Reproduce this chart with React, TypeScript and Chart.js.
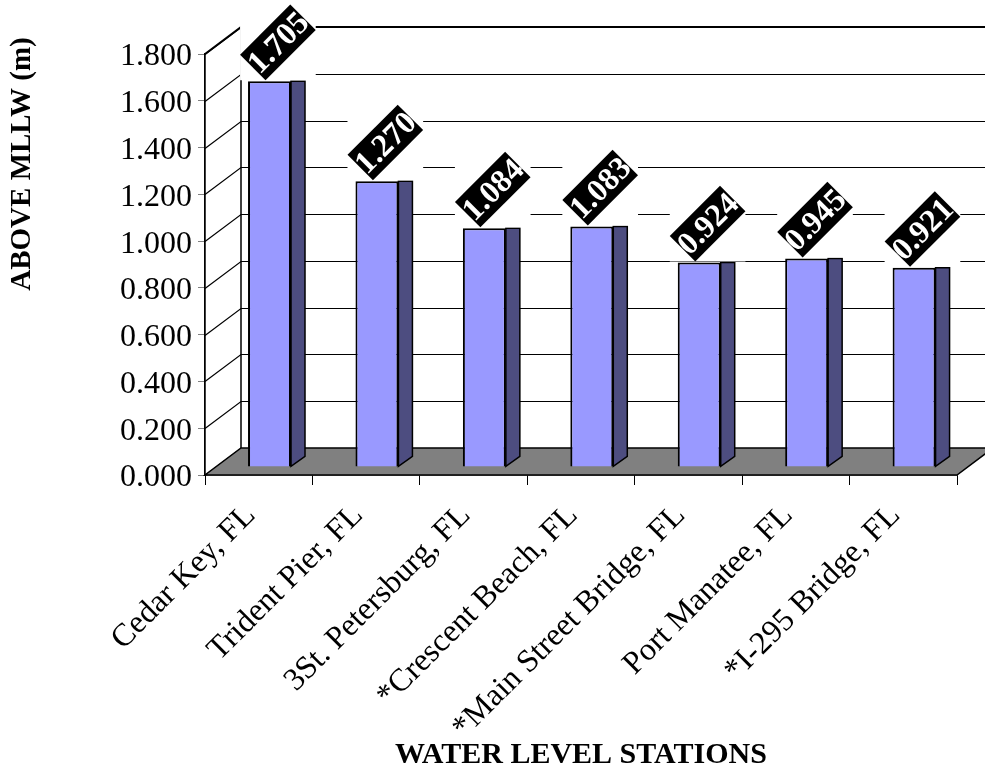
import React, { useEffect, useRef } from 'react';
import { Chart, registerables } from 'chart.js';

Chart.register(...registerables);

// ---- data ----
const stations = [
  'Cedar Key, FL',
  'Trident Pier, FL',
  '3St. Petersburg, FL',
  '*Crescent Beach, FL',
  '*Main Street Bridge, FL',
  'Port Manatee, FL',
  '*I-295 Bridge, FL',
];
const barHeights = [1.649, 1.221, 1.02, 1.028, 0.874, 0.891, 0.851];
const labelTexts = ['1.705', '1.270', '1.084', '1.083', '0.924', '0.945', '0.921'];
const yMin = 0;
const yMax = 1.8;
const yStep = 0.2;
const yTitle = 'ABOVE MLLW (m)';
const xTitle = 'WATER LEVEL STATIONS';

// ---- style ----
const SERIF = "'Liberation Serif', 'Times New Roman', serif";
const DX = 36;
const DY = -27;
const BAR_DEPTH = 0.3;
const SIDE_X = 14;
const SIDE_Y = -10;
const LBL_L = 71;
const LBL_H = 36;

const threeD = {
  id: 'threeD',
  beforeDatasetsDraw(chart: any) {
    const { ctx, chartArea } = chart;
    const { left, right, top, bottom } = chartArea;
    const y = chart.scales.y;
    ctx.save();
    // left wall
    ctx.fillStyle = '#ffffff';
    ctx.beginPath();
    ctx.moveTo(left, bottom);
    ctx.lineTo(left, top);
    ctx.lineTo(left + DX, top + DY);
    ctx.lineTo(left + DX, bottom + DY);
    ctx.closePath();
    ctx.fill();
    // back wall
    ctx.fillRect(left + DX, top + DY, right - left, bottom - top);
    // grid lines
    ctx.strokeStyle = '#000';
    ctx.lineWidth = 1.2;
    y.ticks.forEach((t: any) => {
      const py = Math.round(y.getPixelForValue(t.value)) + 0.5;
      ctx.beginPath();
      ctx.moveTo(left, py);
      ctx.lineTo(left + DX, py + DY);
      ctx.lineTo(right + DX, py + DY);
      ctx.stroke();
    });
    // top edge
    ctx.lineWidth = 2;
    ctx.beginPath();
    ctx.moveTo(left, top);
    ctx.lineTo(left + DX, top + DY);
    ctx.lineTo(right + DX, top + DY);
    ctx.stroke();
    // back wall left edge
    ctx.lineWidth = 1.5;
    ctx.beginPath();
    ctx.moveTo(left + DX, top + DY);
    ctx.lineTo(left + DX, bottom + DY);
    ctx.stroke();
    // floor
    ctx.fillStyle = '#808080';
    ctx.beginPath();
    ctx.moveTo(left, bottom);
    ctx.lineTo(right, bottom);
    ctx.lineTo(right + DX, bottom + DY);
    ctx.lineTo(left + DX, bottom + DY);
    ctx.closePath();
    ctx.fill();
    ctx.lineWidth = 1.5;
    ctx.stroke();
    // front axis line
    ctx.beginPath();
    ctx.moveTo(left, top);
    ctx.lineTo(left, bottom);
    ctx.stroke();
    ctx.restore();
  },
  beforeDatasetDraw(chart: any) {
    chart.ctx.save();
    chart.ctx.translate(DX * BAR_DEPTH, DY * BAR_DEPTH);
  },
  afterDatasetDraw(chart: any, args: any) {
    const ctx = chart.ctx;
    args.meta.data.forEach((bar: any) => {
      const p = bar.getProps(['x', 'y', 'base', 'width'], true);
      const r = p.x + p.width / 2;
      ctx.beginPath();
      ctx.moveTo(r, p.y);
      ctx.lineTo(r + SIDE_X, p.y);
      ctx.lineTo(r + SIDE_X, p.base + SIDE_Y);
      ctx.lineTo(r, p.base);
      ctx.closePath();
      ctx.fillStyle = '#4D4D80';
      ctx.fill();
      ctx.strokeStyle = '#000';
      ctx.lineWidth = 1.5;
      ctx.stroke();
    });
    ctx.restore();
  },
  afterDatasetsDraw(chart: any) {
    const ctx = chart.ctx;
    const meta = chart.getDatasetMeta(0);
    const c = Math.SQRT1_2;
    meta.data.forEach((bar: any, i: number) => {
      const p = bar.getProps(['x', 'y'], true);
      const x0 = p.x + DX * BAR_DEPTH - 4;
      const y0 = p.y + DY * BAR_DEPTH - 1;
      const pts = [
        [x0, y0],
        [x0 + LBL_L * c, y0 - LBL_L * c],
        [x0 + LBL_L * c - LBL_H * c, y0 - LBL_L * c - LBL_H * c],
        [x0 - LBL_H * c, y0 - LBL_H * c],
      ];
      const xs = pts.map((q) => q[0]);
      const ys = pts.map((q) => q[1]);
      ctx.save();
      ctx.fillStyle = '#fff';
      ctx.fillRect(Math.min(...xs), Math.min(...ys), Math.max(...xs) - Math.min(...xs), Math.max(...ys) - Math.min(...ys));
      ctx.beginPath();
      pts.forEach((q, k) => (k ? ctx.lineTo(q[0], q[1]) : ctx.moveTo(q[0], q[1])));
      ctx.closePath();
      ctx.fillStyle = '#000';
      ctx.fill();
      ctx.clip();
      ctx.translate(x0, y0);
      ctx.rotate(-Math.PI / 4);
      ctx.fillStyle = '#fff';
      ctx.font = `bold 32px ${SERIF}`;
      ctx.textAlign = 'center';
      ctx.textBaseline = 'middle';
      ctx.fillText(labelTexts[i], LBL_L / 2, -LBL_H / 2 + 2);
      ctx.restore();
    });
  },
  afterDraw(chart: any) {
    const ctx = chart.ctx;
    ctx.save();
    ctx.translate(23, 164);
    ctx.rotate(-Math.PI / 2);
    ctx.fillStyle = '#000';
    ctx.font = `bold 29px ${SERIF}`;
    ctx.textAlign = 'center';
    ctx.textBaseline = 'middle';
    ctx.fillText(yTitle, 0, 0);
    ctx.restore();
  },
};

export default function App() {
  const ref = useRef<HTMLCanvasElement | null>(null);
  useEffect(() => {
    if (!ref.current) return;
    const chart = new Chart(ref.current, {
      type: 'bar',
      data: {
        labels: stations,
        datasets: [
          {
            data: barHeights,
            backgroundColor: '#9999FF',
            borderColor: '#000',
            borderWidth: 2,
            barPercentage: 0.4,
            categoryPercentage: 1,
            clip: false as any,
          },
        ],
      },
      options: {
        animation: false,
        responsive: false,
        devicePixelRatio: 1,
        layout: { padding: { top: 54, right: 28, left: 0, bottom: 0 } },
        plugins: { legend: { display: false }, tooltip: { enabled: false } },
        scales: {
          x: {
            type: 'category',
            offset: true,
            grid: { offset: true, drawOnChartArea: false, tickLength: 10, color: '#000', lineWidth: 1 },
            border: { display: true, color: '#000', width: 1.5 },
            ticks: {
              font: { family: SERIF, size: 32 },
              color: '#000',
              minRotation: 45,
              maxRotation: 45,
              autoSkip: false,
              padding: 12,
              labelOffset: -8,
            },
            title: {
              display: true,
              text: xTitle,
              color: '#000',
              font: { family: SERIF, size: 30, weight: 'bold' },
              padding: { top: 0, bottom: -3 },
            },
            afterFit(scale: any) {
              scale.height = 295;
            },
          },
          y: {
            min: yMin,
            max: yMax,
            grid: { drawOnChartArea: false, tickLength: 7, color: '#808080' },
            border: { display: true, color: '#000', width: 1.5 },
            ticks: {
              stepSize: yStep,
              font: { family: SERIF, size: 32 },
              color: '#000',
              padding: 6,
              labelOffset: 3,
              callback: (v: any) => Number(v).toFixed(3),
            },
            afterFit(scale: any) {
              scale.width = 205;
            },
          },
        },
      },
      plugins: [threeD],
    });
    return () => chart.destroy();
  }, []);
  return (
    <div style={{ position: 'absolute', left: 0, top: 0, width: 985, height: 770, background: '#fff' }}>
      <canvas ref={ref} width={985} height={770} />
    </div>
  );
}
